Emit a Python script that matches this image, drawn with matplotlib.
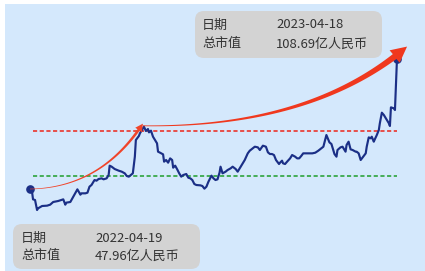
import numpy as np
import matplotlib.pyplot as plt
from matplotlib.patches import FancyBboxPatch, Polygon
from matplotlib.transforms import IdentityTransform

plt.rcParams['font.family'] = ['Noto Sans CJK SC', 'DejaVu Sans']

# days since 2022-04-19 and total market value (亿人民币)
days = [0, 2, 3, 5, 7, 8, 12, 17, 20, 23, 28, 31, 33, 35, 36, 40, 43, 45, 47, 50,
        51, 55, 57, 59, 61, 64, 66, 68, 71, 73, 76, 78, 79, 81, 84, 88, 91, 94, 96, 98,
        100, 102, 104, 105, 108, 109, 112, 113, 115, 117, 118, 120, 122, 124, 126, 127, 129, 132, 133, 135,
        137, 139, 141, 142, 144, 146, 148, 150, 152, 155, 157, 159, 161, 163, 165, 169, 171, 173, 175, 177,
        180, 182, 184, 186, 188, 189, 191, 194, 196, 199, 201, 204, 206, 208, 211, 213, 216, 218, 220, 223,
        226, 228, 231, 234, 236, 238, 240, 242, 244, 247, 248, 250, 251, 253, 255, 258, 260, 263, 265, 267,
        269, 271, 275, 280, 283, 286, 289, 291, 294, 296, 297, 299, 302, 304, 305, 308, 310, 313, 314, 316,
        318, 320, 323, 324, 326, 328, 331, 333, 334, 336, 338, 339, 341, 342, 344, 346, 347, 349, 351, 352,
        354, 356, 357, 358, 361, 362, 363, 364]
values = [47.96, 46.71, 43.13, 42.82, 38.15, 38.93, 40.02, 40.18, 40.64, 41.89, 42.36, 42.82, 43.13, 40.64, 41.58, 41.89, 44.38, 45.94, 47.80, 45.31,
          45.94, 45.94, 46.25, 49.05, 49.83, 52.16, 51.85, 52.63, 52.94, 52.48, 52.94, 54.50, 58.86, 58.39, 57.30, 56.52, 56.06, 55.28, 54.03, 53.72,
          54.50, 55.28, 63.06, 70.85, 72.72, 73.96, 76.30, 77.08, 75.05, 75.99, 74.43, 75.21, 72.40, 70.85, 69.29, 65.40, 64.93, 64.15, 60.73, 61.51,
          60.26, 62.28, 61.51, 57.93, 58.86, 57.15, 55.28, 53.72, 54.50, 54.97, 53.25, 52.94, 52.16, 50.30, 49.83, 49.67, 49.36, 48.12, 49.05, 51.39,
          54.19, 52.94, 52.16, 52.48, 55.59, 58.39, 55.28, 56.06, 56.83, 57.61, 58.39, 57.30, 56.06, 57.61, 59.95, 61.51, 64.62, 65.87, 66.64, 67.73,
          67.42, 66.18, 68.20, 67.73, 65.09, 64.31, 64.31, 63.84, 61.51, 59.64, 60.26, 61.19, 59.95, 59.64, 60.73, 62.28, 63.84, 63.06, 62.28, 62.28,
          63.37, 64.62, 64.62, 64.62, 64.93, 65.87, 66.96, 67.73, 73.18, 70.85, 69.76, 68.98, 64.31, 63.06, 66.18, 67.42, 67.73, 65.40, 68.51, 70.07,
          66.49, 66.18, 65.40, 65.40, 64.62, 61.51, 63.37, 64.62, 67.73, 72.09, 71.63, 72.40, 70.07, 71.16, 73.18, 75.52, 78.63, 83.62, 82.53, 81.75,
          80.19, 78.63, 77.39, 86.11, 85.64, 84.86, 97.32, 108.69]

start_label = ['日期', '2022-04-19', '总市值', '47.96亿人民币']
end_label = ['日期', '2023-04-18', '总市值', '108.69亿人民币']
upper_level = 75.1
lower_level = 54.2

fig = plt.figure(figsize=(4.25, 2.71), dpi=100)
ax = fig.add_axes([5 / 425, 0, 420 / 425, 267 / 271])
ax.set_facecolor('#d4e8fc')
ax.set_xlim(-24.8, 391.8)
ax.set_ylim(9.65, 134.4)
for s in ax.spines.values():
    s.set_visible(False)
ax.set_xticks([])
ax.set_yticks([])

ax.plot([3, 364], [upper_level] * 2, color='#e8423c', lw=1.3, dashes=(2.3, 1.4))
ax.plot([3, 364], [lower_level] * 2, color='#3aa84a', lw=1.3, dashes=(2.3, 1.4))

ax.plot(days, values, color='#1b2f86', lw=1.55, zorder=3)
ax.plot([days[0], days[-1]], [values[0], values[-1]], 'o', color='#1b2f86', ms=5.2, zorder=4)

# tapered curved arrows, built in pixel space from data anchors
peak = int(np.argmax(values[:60]))


def taper_arrow(p0, c, p2, w0, w1, head_w, head_l, color):
    to_px = ax.transData.transform
    P0, C, P2 = to_px(p0), to_px(c), to_px(p2)
    t = np.linspace(0, 1, 80)[:, None]
    pts = (1 - t) ** 2 * P0 + 2 * (1 - t) * t * C + t ** 2 * P2
    d = np.gradient(pts, axis=0)
    d /= np.linalg.norm(d, axis=1)[:, None]
    n = np.column_stack([-d[:, 1], d[:, 0]])
    seglen = np.cumsum(np.r_[0, np.linalg.norm(np.diff(pts, axis=0), axis=1)])
    keep = seglen <= seglen[-1] - head_l
    pts, n, tt = pts[keep], n[keep], t[keep][:, 0]
    w = (w0 + (w1 - w0) * tt ** 1.3)[:, None] / 2
    tip = P2
    base = pts[-1]
    dirv = (tip - base) / np.linalg.norm(tip - base)
    nb = np.array([-dirv[1], dirv[0]])
    poly = np.vstack([pts + n * w, base + nb * head_w / 2, tip,
                      base - nb * head_w / 2, (pts - n * w)[::-1]])
    ax.add_patch(Polygon(poly, closed=True, transform=IdentityTransform(),
                         facecolor=color, edgecolor='none', zorder=5))


taper_arrow((days[0], values[0]), (70, 48.5), (days[peak] - 1, 78.5),
            0.6, 2.8, 8, 7, '#f0442a')
taper_arrow((days[peak] - 1, 77.5), (279, 76.5), (374, 114.5),
            0.8, 6.5, 16, 13, '#f0381e')

# info boxes
box_kw = dict(boxstyle='round,pad=0,rounding_size=9', facecolor='#d3d3d3',
              edgecolor='none', transform=IdentityTransform(), zorder=6)
H = 271
ax.add_patch(FancyBboxPatch((195, H - 58), 187, 47, **box_kw))
ax.add_patch(FancyBboxPatch((13, H - 269), 187, 45, **box_kw))

txt_kw = dict(fontsize=9.4, color='#333333', va='center', ha='left', zorder=7)
fig.text(202 / 425, 1 - 25 / H, end_label[0], **txt_kw)
fig.text(276 / 425, 1 - 25 / H, end_label[1], **txt_kw)
fig.text(202 / 425, 1 - 44 / H, end_label[2], **txt_kw)
fig.text(276 / 425, 1 - 44 / H, end_label[3], **txt_kw)
fig.text(21 / 425, 1 - 238 / H, start_label[0], **txt_kw)
fig.text(95 / 425, 1 - 238 / H, start_label[1], **txt_kw)
fig.text(21 / 425, 1 - 256 / H, start_label[2], **txt_kw)
fig.text(95 / 425, 1 - 256 / H, start_label[3], **txt_kw)

fig.savefig('out.png', dpi=100, facecolor='white')
